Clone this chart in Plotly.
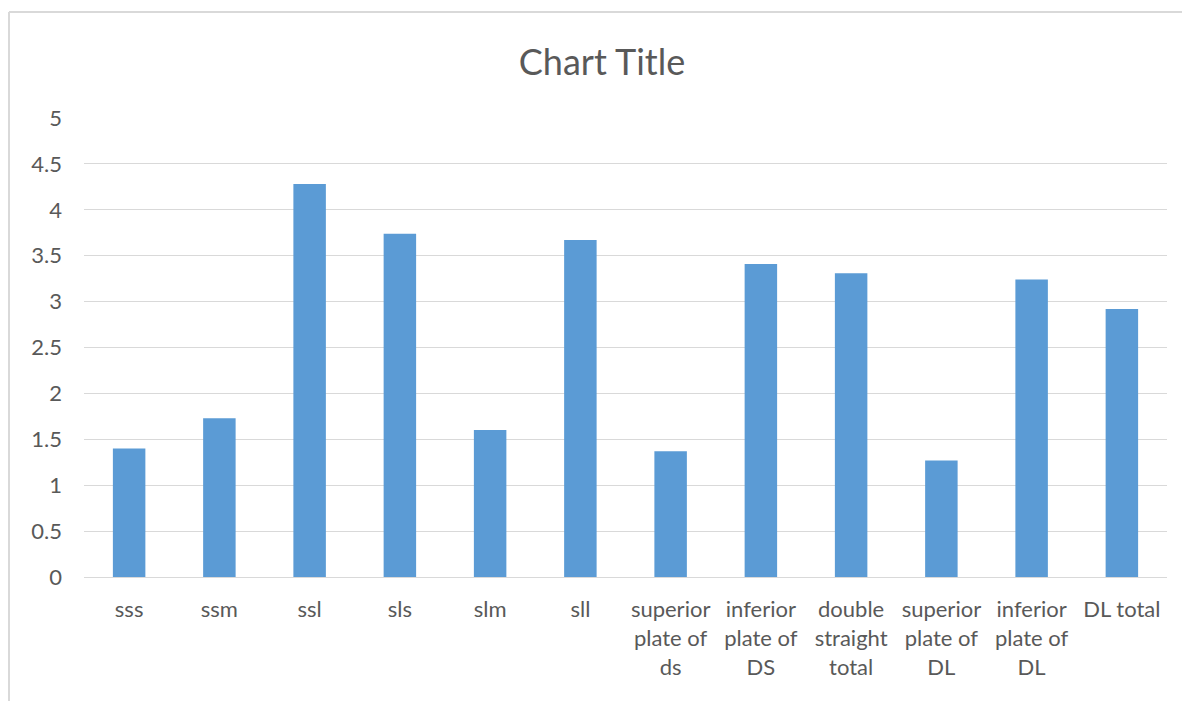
import plotly.graph_objects as go

categories = ["sss", "ssm", "ssl", "sls", "slm", "sll",
              "superior<br>plate of<br>ds", "inferior<br>plate of<br>DS",
              "double<br>straight<br>total", "superior<br>plate of<br>DL",
              "inferior<br>plate of<br>DL", "DL total"]
values = [1.40, 1.73, 4.28, 3.74, 1.60, 3.67, 1.37, 3.41, 3.31, 1.27, 3.24, 2.92]
y_ticks = [0, 0.5, 1, 1.5, 2, 2.5, 3, 3.5, 4, 4.5, 5]
y_ticktext = ["0", "0.5", "1", "1.5", "2", "2.5", "3", "3.5", "4", "4.5", "5"]

W, H = 1182, 701
ml, mr, mt, mb = 84, 15, 118, 124
pw, ph = W - ml - mr, H - mt - mb

fig = go.Figure(go.Bar(x=categories, y=values, marker=dict(color="#5b9bd5", line=dict(width=0)),
                       hoverinfo="x+y"))

font_fam = "Lato, 'Open Sans', sans-serif"
fig.update_layout(
    width=W, height=H,
    margin=dict(l=ml, r=mr, t=mt, b=mb),
    paper_bgcolor="white", plot_bgcolor="white",
    bargap=0.64,
    showlegend=False,
    font=dict(family=font_fam, color="#595959", size=22),
    title=dict(text="Chart Title", x=602 / W, xanchor="center",
               y=1 - 62 / H, yanchor="middle",
               font=dict(family=font_fam, size=36, color="#595959")),
    xaxis=dict(showgrid=False, showline=True, linecolor="#d9d9d9", linewidth=1,
               tickfont=dict(size=22, color="#595959"), ticks="", ticklabelstandoff=13,
               tickangle=0, fixedrange=True),
    yaxis=dict(range=[0, 5], tickvals=y_ticks, ticktext=y_ticktext,
               showgrid=True, gridcolor="#d9d9d9", gridwidth=1,
               zeroline=False, showline=False, ticks="",
               tickfont=dict(size=22, color="#595959"), ticklabelstandoff=21,
               fixedrange=True),
)

# chart area frame (left and top edges visible)
lx = (9 - ml) / pw
ty = (H - mb - 12) / ph
by = (H - mb - H) / ph
fig.add_shape(type="line", xref="paper", yref="paper", x0=lx, x1=lx, y0=by, y1=ty,
              line=dict(color="#d9d9d9", width=2))
fig.add_shape(type="line", xref="paper", yref="paper", x0=lx, x1=(W - ml) / pw + 0.01, y0=ty, y1=ty,
              line=dict(color="#d9d9d9", width=2))

fig.write_html("out.html", config={"displayModeBar": False},
               post_script="document.body.style.margin='0';")
